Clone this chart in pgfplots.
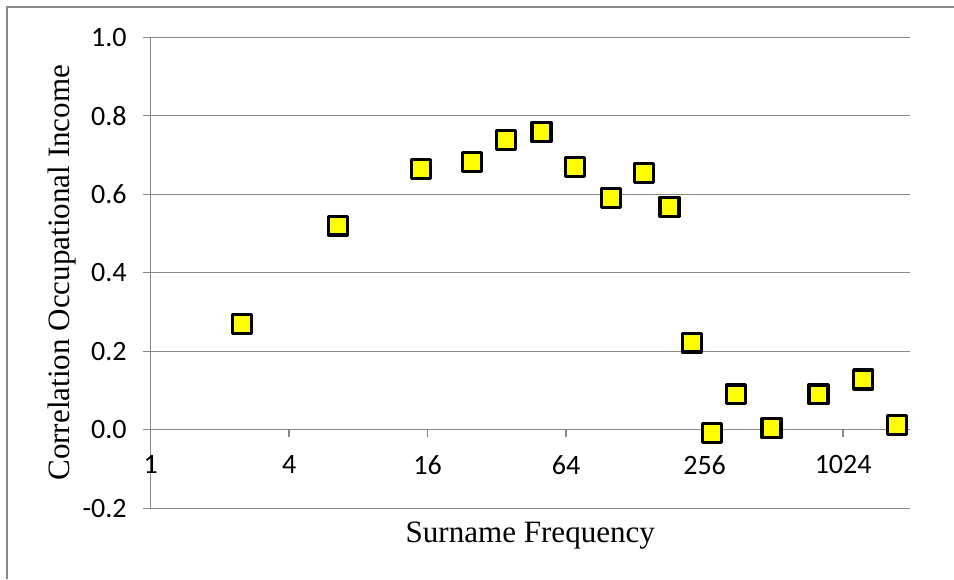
\documentclass[border=0pt]{standalone}
\usepackage{fontspec}
\usepackage{pgfplots}
\pgfplotsset{compat=1.18}
\setmainfont{Liberation Serif}
\newfontfamily\calibri{Carlito}
\definecolor{gridgray}{HTML}{878787}
\definecolor{markyellow}{HTML}{FFFF00}

\begin{document}
\begin{tikzpicture}
  % page = 954 x 579 px, 1 px = 0.75pt
  \useasboundingbox (0,0) rectangle (715.5pt,-434.25pt);
  \draw[gridgray, line width=1.1pt] (5.25pt,-434.25pt) -- (5.25pt,-5.25pt) -- (715.5pt,-5.25pt);
  \begin{axis}[
      at={(113.0pt,-381.2pt)}, anchor=south west,
      scale only axis, width=569.5pt, height=353.3pt,
      xmode=log, log basis x=2,
      xmin=1, xmax=2000, ymin=-0.2, ymax=1.0,
      axis x line=middle, axis y line=left,
      axis line style={gridgray, line width=1pt, -},
      hide obscured x ticks=false, hide obscured y ticks=false,
      xtick={1,4,16,64,256,1024}, xticklabels={1,4,16,64,256,1024},
      ytick={-0.2,0,0.2,0.4,0.6,0.8,1.0},
      yticklabels={-0.2,0.0,0.2,0.4,0.6,0.8,1.0},
      minor xtick={},
      tick align=outside, major tick length=5.5pt,
      tick style={gridgray, line width=1pt},
      ymajorgrids, grid style={gridgray, line width=1pt},
      ticklabel style={font=\calibri\fontsize{21}{24}\selectfont, text=black},
      xticklabel style={yshift=-10pt},
      yticklabel style={xshift=-9pt},
      /pgf/number format/assume math mode=true,
      xlabel={Surname Frequency},
      ylabel={Correlation Occupational Income},
      label style={font=\fontsize{23.3}{26}\selectfont},
      xlabel style={at={(rel axis cs:0.5,0)}, anchor=base, yshift=-25.3pt},
      ylabel style={at={(rel axis cs:0,0.5)}, anchor=base, yshift=60.5pt},
      clip=false,
    ]
    \addplot[only marks, mark=square*, mark size=7.1pt,
      mark options={fill=markyellow, draw=black, line width=2.4pt, line join=round}]
      coordinates {
        (2.5,0.270) (6.5,0.520) (15,0.664) (25,0.683) (35,0.738) (50,0.758)
        (70,0.670) (100,0.591) (140,0.655) (180,0.568) (225,0.222) (275,-0.008)
        (350,0.090) (500,0.004) (800,0.090) (1250,0.128) (1750,0.012)
      };
  \end{axis}
\end{tikzpicture}
\end{document}
